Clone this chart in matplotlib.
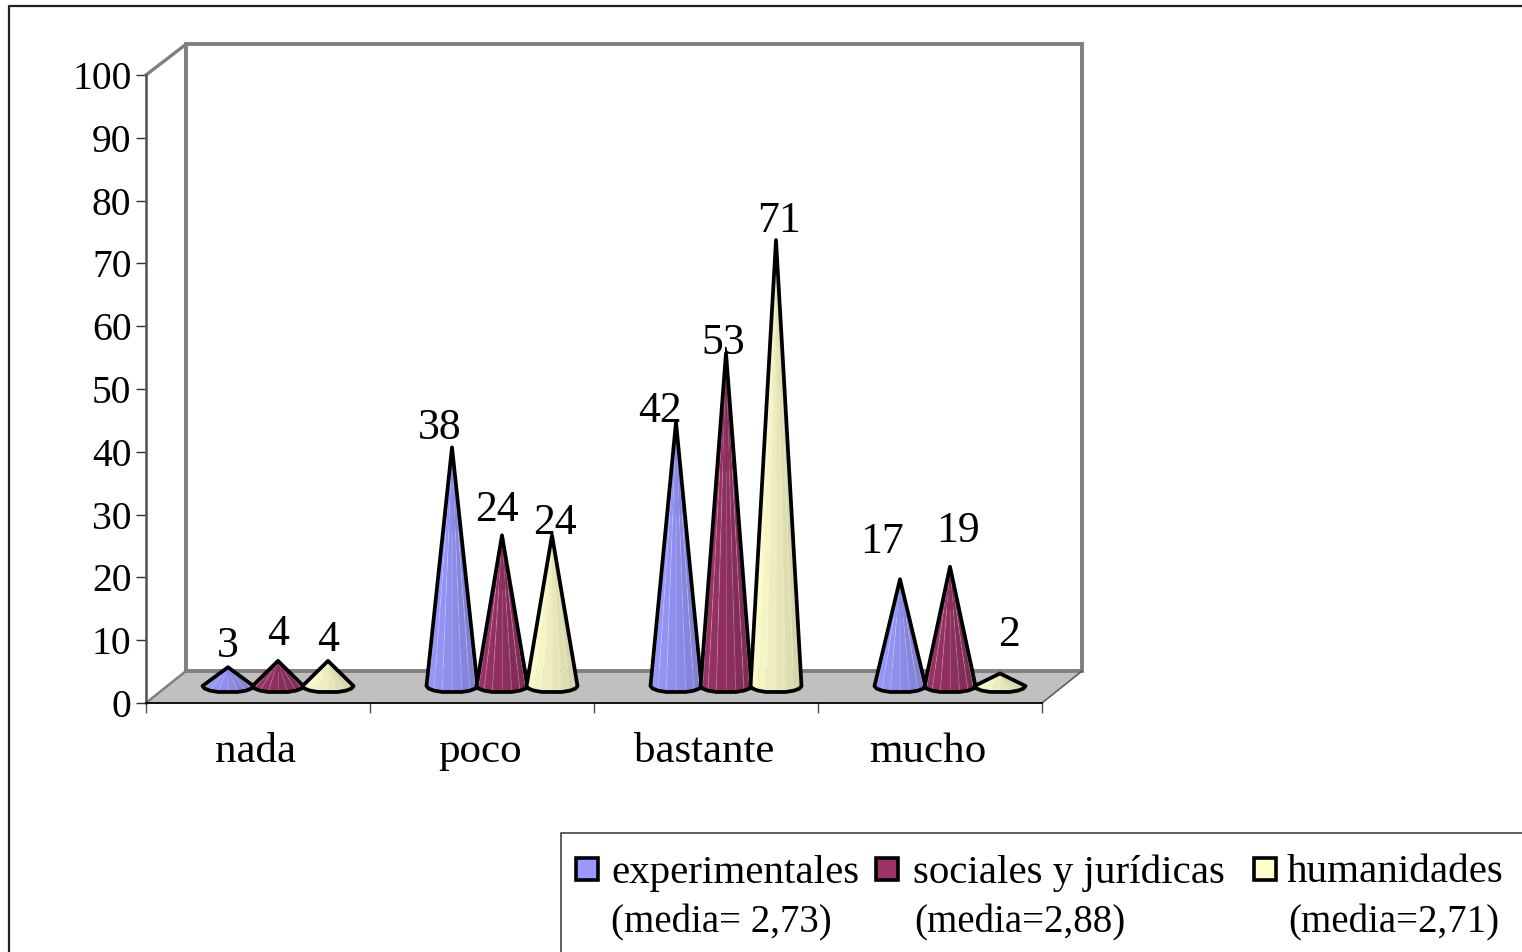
import numpy as np
import matplotlib
matplotlib.use("Agg")
import matplotlib.pyplot as plt
from matplotlib.colors import to_rgb
from matplotlib.patches import Polygon, Rectangle

# data
categories = ["nada", "poco", "bastante", "mucho"]
experimentales = [3, 38, 42, 17]
sociales = [4, 24, 53, 19]
humanidades = [4, 24, 71, 2]

series_names = ["experimentales", "sociales y jurídicas", "humanidades"]
series_notes = ["(media= 2,73)", "(media=2,88)", "(media=2,71)"]
y_ticks = list(range(0, 101, 10))

colors = ["#9999ff", "#993366", "#ffffcc"]
# hand placed labels in the original, offset from the cone tip in pixels
label_shift = [
    [(0, 21), (-12, 19), (-16, 11), (-18, 37)],
    [(0, 27), (-5, 25), (-3, 10), (8, 36)],
    [(0, 21), (3, 12), (3, 19), (9, 38)],
]

W, H = 1522, 952
plt.rcParams["font.family"] = ["Liberation Serif", "DejaVu Serif"]

fig = plt.figure(figsize=(W / 100, H / 100), dpi=100)
# left 146 to 1042, y 703 up to 75 (in image pixels)
ax = fig.add_axes([146 / W, 1 - 703 / H, 896 / W, 628 / H])
ax.set_xlim(0, len(categories))
ax.set_ylim(0, 100)
ax.patch.set_visible(False)

px_x = len(categories) / 896
px_y = 100 / 628
depth_x = 40 * px_x
depth_y = 32 * px_y
n_cat = len(categories)

# box walls and floor
ax.add_patch(Polygon([(0, 0), (depth_x, depth_y), (n_cat + depth_x, depth_y), (n_cat, 0)],
                     closed=True, fc="#c0c0c0", ec="none", clip_on=False, zorder=1))
grey = "#808080"
ax.plot([depth_x, depth_x, n_cat + depth_x, n_cat + depth_x, depth_x],
        [depth_y, 100 + depth_y - 0.2, 100 + depth_y - 0.2, depth_y, depth_y],
        color=grey, lw=2.8, clip_on=False, zorder=2, solid_joinstyle="miter")
ax.plot([0, depth_x], [100, 100 + depth_y - 0.2], color=grey, lw=2.4, clip_on=False, zorder=2)
ax.plot([0, depth_x], [0, depth_y], color=grey, lw=1.8, clip_on=False, zorder=2)
ax.plot([n_cat, n_cat + depth_x], [0, depth_y], color="#606060", lw=1.2, clip_on=False, zorder=2)


def shades(base):
    # facet brightness from left to right like the Excel cone
    rgb = np.array(to_rgb(base))
    return [tuple(np.clip(rgb * k, 0, 1)) for k in (1.0, 0.98, 0.96, 0.93, 0.9, 0.87, 0.84, 0.85)]


def draw_cone(xc, value, color, z):
    half = 25.5 * px_x
    base_y = 17 * px_y
    drop = 6.5 * px_y
    tip = (xc, base_y + value)
    # lower rim of the cone, flattened like in the picture
    t = np.linspace(np.pi, 2 * np.pi, 9)
    rim_x = xc + half * np.cos(t)
    rim_y = base_y + drop * np.sin(t)
    rim_y[1:-1] = np.maximum(rim_y[1:-1], base_y - drop * 0.92)
    facets = shades(color)
    for i, fc in enumerate(facets):
        ax.add_patch(Polygon([tip, (rim_x[i], rim_y[i]), (rim_x[i + 1], rim_y[i + 1])], closed=True,
                             fc=fc, ec="none", clip_on=False, zorder=z))
        # thin light seam between the facets
        if i > 0:
            ax.plot([tip[0] + (rim_x[i] - tip[0]) * 0.35, rim_x[i]],
                    [tip[1] + (rim_y[i] - tip[1]) * 0.35, rim_y[i]],
                    color="white", alpha=0.18, lw=0.8, clip_on=False, zorder=z)
    outline = [tip] + list(zip(rim_x, rim_y))
    ax.add_patch(Polygon(outline, closed=True, fc="none", ec="black", lw=2.7,
                         joinstyle="round", clip_on=False, zorder=z + 0.1))


values = [experimentales, sociales, humanidades]
for s, vals in enumerate(values):
    for c, v in enumerate(vals):
        xc = c + 0.5 + (s - 1) * 50 * px_x + 20 * px_x
        draw_cone(xc, v, colors[s], 5 + s)
        dx, dy = label_shift[s][c]
        ax.annotate(str(v), (xc, 17 * px_y + v), xytext=(dx, dy), textcoords="offset pixels",
                    ha="center", va="center", fontsize=31.5, color="black", zorder=12,
                    annotation_clip=False)

# axes
ax.set_yticks(y_ticks)
ax.set_xticks(range(n_cat + 1))
ax.set_xticklabels([])
ax.tick_params(axis="y", length=7, width=1.0, color="#303030", labelsize=28.5, pad=3.5)
ax.tick_params(axis="x", length=7, width=1.0, color="#505050")
for side in ("top", "right"):
    ax.spines[side].set_visible(False)
ax.spines["left"].set_color("#505050")
ax.spines["left"].set_linewidth(1.8)
ax.spines["bottom"].set_color("black")
ax.spines["bottom"].set_linewidth(1.3)
for c, name in enumerate(categories):
    ax.annotate(name, (c + 0.5, 0), xytext=(-2, -49), textcoords="offset pixels",
                ha="center", va="center", fontsize=31)

# frame and legend on a pixel overlay
over = fig.add_axes([0, 0, 1, 1], zorder=20)
over.set_xlim(0, W)
over.set_ylim(H, 0)
over.axis("off")
over.patch.set_visible(False)
over.plot([8.5, 8.5, W + 5], [H + 5, 5.5, 5.5], color="#202020", lw=1.6)
over.add_patch(Rectangle((560.5, 832.5), W, H, fc="white", ec="#303030", lw=1.1))

key_x = [576, 876, 1254]
text_x = [611, 913, 1287]
note_x = [611, 914, 1288]
for i in range(3):
    over.add_patch(Rectangle((key_x[i], 858), 22, 22, fc=colors[i], ec="black", lw=2.6))
    over.text(text_x[i], 873, series_names[i], fontsize=29.5, ha="left", va="center")
    over.text(note_x[i], 923, series_notes[i], fontsize=28, ha="left", va="center")

fig.savefig("out.png", dpi=100, facecolor="white")
